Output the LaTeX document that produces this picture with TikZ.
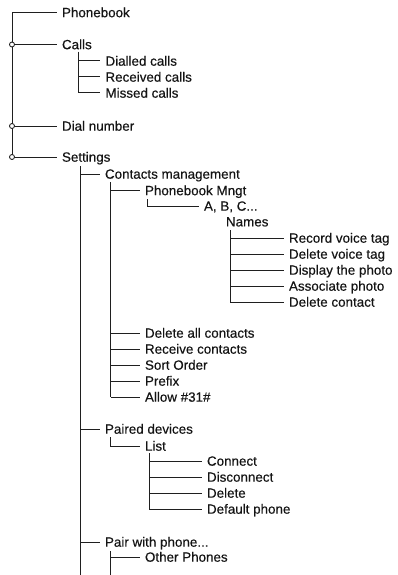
\documentclass[tikz,border=0pt]{standalone}
\usepackage{fontspec}
\setmainfont[FakeBold=0.35]{Liberation Sans}
\begin{document}
\begin{tikzpicture}[x=1pt,y=-1pt,
  item/.style={anchor=west,inner sep=0pt,outer sep=0pt,text height=9.4pt,text depth=0pt,font=\fontsize{13.4}{16}\selectfont,text=black!92},
  link/.style={line width=1pt,draw=black!88,shorten >=5.5pt},
  trunk/.style={line width=1pt,draw=black!88},
  knot/.style={circle,draw=black!88,line width=0.85pt,fill=white,inner sep=0pt,minimum size=5pt}]
\useasboundingbox (0,0) rectangle (398,575);
% level 0
\node[item] (phonebook) at (62,12.5) {Phonebook};
\node[item] (calls) at (62,44.5) {Calls};
\node[item] (dial) at (62,126) {Dial number};
\node[item] (settings) at (62,157) {Settings};
% calls
\node[item] (dialled) at (105.5,61) {Dialled calls};
\node[item] (received) at (105.5,77) {Received calls};
\node[item] (missed) at (105.5,93) {Missed calls};
% settings
\node[item] (contacts) at (105,174) {Contacts management};
\node[item] (paired) at (105,429) {Paired devices};
\node[item] (pair) at (105,542) {Pair with phone...};
% contacts management
\node[item] (pbmngt) at (145,190.5) {Phonebook Mngt};
\node[item] (delall) at (145,333) {Delete all contacts};
\node[item] (receive) at (145,349) {Receive contacts};
\node[item] (sort) at (145,365) {Sort Order};
\node[item] (prefix) at (145,381) {Prefix};
\node[item] (allow) at (145,397) {Allow \#31\#};
% phonebook mngt
\node[item] (abc) at (204,206) {A, B, C...};
\node[item] (names) at (226,221.7) {Names};
\node[item] (record) at (289,238) {Record voice tag};
\node[item] (delvoice) at (289,254) {Delete voice tag};
\node[item] (display) at (289,270) {Display the photo};
\node[item] (assoc) at (289,286) {Associate photo};
\node[item] (delcontact) at (289,302) {Delete contact};
% paired devices
\node[item] (list) at (145,446) {List};
\node[item] (connect) at (207,461) {Connect};
\node[item] (disconnect) at (207,477) {Disconnect};
\node[item] (delete) at (207,493) {Delete};
\node[item] (default) at (207,509) {Default phone};
% pair with phone
\node[item] (other) at (145,557) {Other Phones};
% coordinates of the trunks
\coordinate (t0) at (12,12.5);
\coordinate (t0e) at (12,157);
\coordinate (tc) at (78,52);
\coordinate (ts) at (80,166);
\coordinate (tse) at (80,575);
\coordinate (tcm) at (110.5,182);
\coordinate (tpb) at (147,199);
\coordinate (tn) at (230,230);
\coordinate (tpd) at (110.5,437);
\coordinate (tl) at (149,453);
\coordinate (tp) at (110.5,551);
\coordinate (tpe) at (110.5,575);
% trunks
\draw[trunk] (t0) -- (t0e);
\draw[trunk] (ts) -- (tse);
\draw[trunk] (tcm) -- (tcm |- allow.west);
\draw[trunk] (tp) -- (tpe);
% branches
\draw[link] (t0) -- (phonebook.west);
\foreach \n in {calls,dial,settings} \draw[link] (t0 |- \n.west) -- (\n.west);
\draw[link] (tc) |- (dialled.west);
\draw[link] (tc) |- (received.west);
\draw[link] (tc) |- (missed.west);
\foreach \n in {contacts,paired,pair} \draw[link] (ts |- \n.west) -- (\n.west);
\foreach \n in {pbmngt,delall,receive,sort,prefix,allow} \draw[link] (tcm |- \n.west) -- (\n.west);
\draw[link] (tpb) |- (abc.west);
\foreach \n in {record,delvoice,display,assoc,delcontact} \draw[link] (tn) |- (\n.west);
\draw[link] (tpd) |- (list.west);
\foreach \n in {connect,disconnect,delete,default} \draw[link] (tl) |- (\n.west);
\draw[link] (tp |- other.west) -- (other.west);
% knots
\foreach \n in {calls,dial,settings} \node[knot] at (t0 |- \n.west) {};
\end{tikzpicture}
\end{document}
